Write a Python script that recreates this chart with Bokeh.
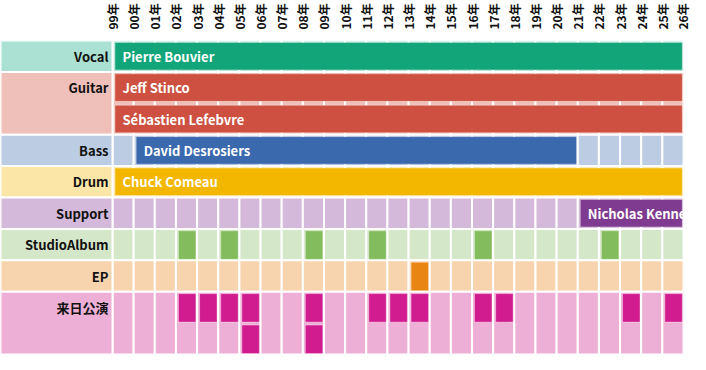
import math
from bokeh.plotting import figure
from bokeh.models import Range1d, FixedTicker
from bokeh.core.properties import value
from bokeh.embed import file_html
from bokeh.resources import INLINE

# ---------------- data ----------------
roles = ["Vocal", "Guitar", "Bass", "Drum", "Support", "StudioAlbum", "EP", "来日公演"]
role_lanes = [1, 2, 1, 1, 1, 1, 1, 2]
bar_colors = ["#12a57a", "#cd5040", "#3b69ae", "#f3b700", "#7f3b8f", "#82bc5c", "#e88513", "#d01c8e"]
bg_colors = ["#abe1d2", "#efc0b9", "#bccde3", "#fbe6a7", "#d4b9da", "#d5e7c9", "#f8d4ae", "#eeafd6"]

years = [1999, 2000, 2001, 2002, 2003, 2004, 2005, 2006, 2007, 2008, 2009, 2010, 2011, 2012,
         2013, 2014, 2015, 2016, 2017, 2018, 2019, 2020, 2021, 2022, 2023, 2024, 2025, 2026]
year_labels = ["99年", "00年", "01年", "02年", "03年", "04年", "05年", "06年", "07年", "08年",
               "09年", "10年", "11年", "12年", "13年", "14年", "15年", "16年", "17年", "18年",
               "19年", "20年", "21年", "22年", "23年", "24年", "25年", "26年"]

member_roles = ["Vocal", "Guitar", "Guitar", "Bass", "Drum", "Support"]
member_names = ["Pierre Bouvier", "Jeff Stinco", "Sébastien Lefebvre", "David Desrosiers",
                "Chuck Comeau", "Nicholas Kennedy"]
member_lanes = [0, 0, 1, 0, 0, 0]
member_start = [1999, 1999, 1999, 2000, 1999, 2021]
member_end = [2026, 2026, 2026, 2021, 2026, 2026]

studio_album_years = [2002, 2004, 2008, 2011, 2016, 2022]
ep_years = [2013]
japan_lane0_years = [2002, 2003, 2004, 2005, 2008, 2011, 2012, 2013, 2016, 2017, 2023, 2025]
japan_lane1_years = [2005, 2008]

# ---------------- layout ----------------
W, H = 690, 354
TOP, RIGHT = 32, 7
LABEL_PX = 112
FONT = "Noto Sans CJK JP"

first_year, last_year = years[0], years[-1]
frame_w = W - RIGHT
frame_h = H - TOP
ppy = (frame_w - LABEL_PX) / (last_year - first_year)
x_start = first_year - LABEL_PX / ppy
total_lanes = sum(role_lanes)
ppl = frame_h / total_lanes

role_top = {}
acc = 0
for r, n in zip(roles, role_lanes):
    role_top[r] = acc
    acc += n
role_idx = {r: i for i, r in enumerate(roles)}

p = figure(width=W, height=H, x_range=Range1d(x_start, last_year), y_range=Range1d(total_lanes, 0),
           x_axis_location="above", y_axis_location=None, toolbar_location=None, tools="",
           output_backend="svg", min_border_left=0, min_border_right=RIGHT,
           min_border_top=TOP, min_border_bottom=0)
p.outline_line_color = None
p.xgrid.visible = False
p.ygrid.visible = False
p.background_fill_color = "white"
p.border_fill_color = "white"

ax = p.xaxis[0]
ax.ticker = FixedTicker(ticks=years)
ax.major_label_overrides = {y: l for y, l in zip(years, year_labels)}
ax.major_label_orientation = math.pi / 2
ax.axis_line_color = None
ax.major_tick_line_color = None
ax.minor_tick_line_color = None
ax.major_label_standoff = 5
ax.major_label_text_font = FONT
ax.major_label_text_font_style = "bold"
ax.major_label_text_font_size = "12px"
ax.major_label_text_color = "#111111"

# background cells + label column
for r, n in zip(roles, role_lanes):
    i = role_idx[r]
    t = role_top[r]
    lefts = years[:-1]
    rights = years[1:]
    p.quad(left=lefts, right=rights, top=[t] * len(lefts), bottom=[t + n] * len(lefts),
           fill_color=bg_colors[i], line_color="white", line_width=2)
    p.quad(left=[x_start], right=[first_year], top=[t], bottom=[t + n],
           fill_color=bg_colors[i], line_color="white", line_width=2)
    p.text(x=[first_year], y=[t + 0.5], text=[r], x_offset=-4, text_align="right",
           text_baseline="middle", text_color="#111111", text_font=value(FONT),
           text_font_style="bold", text_font_size="13px")

dxl, dxr, dy = 2.5 / ppy, 1.2 / ppy, 2 / ppl

# member bars
for role, name, lane, s, e in zip(member_roles, member_names, member_lanes, member_start, member_end):
    i = role_idx[role]
    t = role_top[role] + lane
    p.quad(left=[s + dxl], right=[e - dxr], top=[t + dy], bottom=[t + 1 - dy],
           fill_color=bar_colors[i], line_color="white", line_alpha=0.35, line_width=1)
    p.text(x=[s], y=[t + 0.5], text=[name], x_offset=10, text_align="left",
           text_baseline="middle", text_color="white", text_font=value(FONT),
           text_font_style="bold", text_font_size="13px")

# event boxes
def boxes(role, lane, yrs):
    i = role_idx[role]
    t = role_top[role] + lane
    p.quad(left=[y + dxl for y in yrs], right=[y + 1 - dxr for y in yrs],
           top=[t + dy] * len(yrs), bottom=[t + 1 - dy / 2] * len(yrs),
           fill_color=bar_colors[i], line_color="white", line_alpha=0.35, line_width=1)

boxes("StudioAlbum", 0, studio_album_years)
boxes("EP", 0, ep_years)
boxes("来日公演", 0, japan_lane0_years)
boxes("来日公演", 1, japan_lane1_years)

open("out.html", "w").write(file_html(p, INLINE))
